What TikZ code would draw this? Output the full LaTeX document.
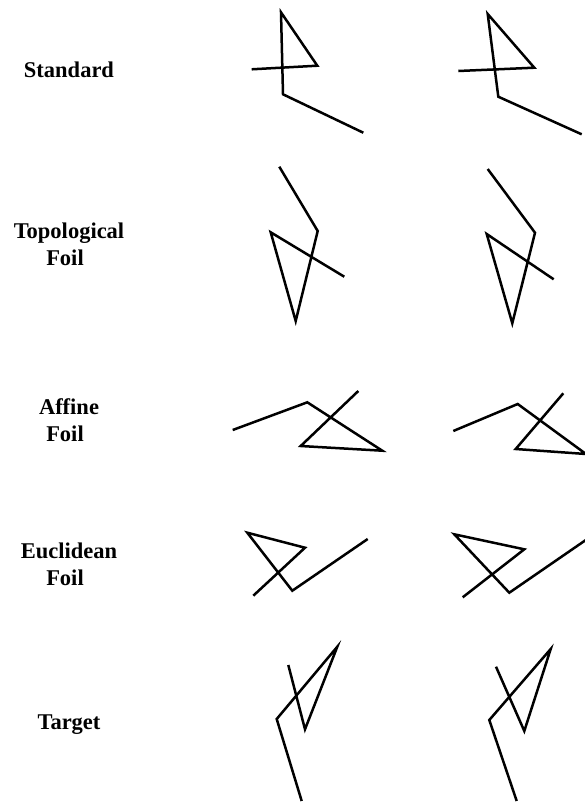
\documentclass[tikz,border=0pt]{standalone}
\usepackage{fontspec}
\setmainfont{Liberation Serif}
\begin{document}
\begin{tikzpicture}[x=1pt,y=-1pt,
  lbl/.style={font=\bfseries\fontsize{22.5}{27}\selectfont, align=center, inner sep=0pt},
  stroke/.style={line width=2.5pt, black}]
\useasboundingbox (0,0) rectangle (585,807);
% labels
\node[lbl] (standard) at (69,70) {Standard};
\node[lbl] (topo) at (69,244) {Topological\\Foil\hspace*{8pt}};
\node[lbl] (affine) at (69,420) {Affine\\Foil\hspace*{8pt}};
\node[lbl] (eucl) at (69,564) {Euclidean\\Foil\hspace*{8pt}};
\node[lbl] (target) at (69,725) {Target};
% Standard
\draw[stroke] (251.7,69.3) -- (317.3,65.7) -- (281,12.3) -- (283,94.3) -- (363.3,132.7);
\draw[stroke] (458.3,71) -- (534.3,67.7) -- (487.7,14) -- (498.3,96.7) -- (581.7,134.3);
% Topological foil
\draw[stroke] (279.3,166.7) -- (317.7,231) -- (295.7,321) -- (270.7,232.3) -- (344.3,276.7);
\draw[stroke] (487.7,169) -- (535,232.7) -- (512.3,323.3) -- (486.7,234) -- (553.7,279.3);
% Affine foil
\draw[stroke] (232.7,430) -- (307.3,402.3) -- (382.3,450.7) -- (300.7,446) -- (358.3,391);
\draw[stroke] (453.3,431) -- (517.7,404) -- (586,454) -- (515.7,449) -- (563.3,393.3);
% Euclidean foil
\draw[stroke] (253.3,595.7) -- (305,547.7) -- (247.3,532.7) -- (292.3,590.7) -- (367.7,539);
\draw[stroke] (462.7,597.3) -- (524.3,549.3) -- (454.3,534.3) -- (509.3,592.7) -- (588,538.5);
% Target
\draw[stroke] (301.7,801) -- (276.7,719) -- (337.3,646.7) -- (305,729.3) -- (288.3,665);
\draw[stroke] (516.7,801) -- (489.3,720) -- (550.7,649) -- (524.3,731) -- (496,666.7);
\end{tikzpicture}
\end{document}
